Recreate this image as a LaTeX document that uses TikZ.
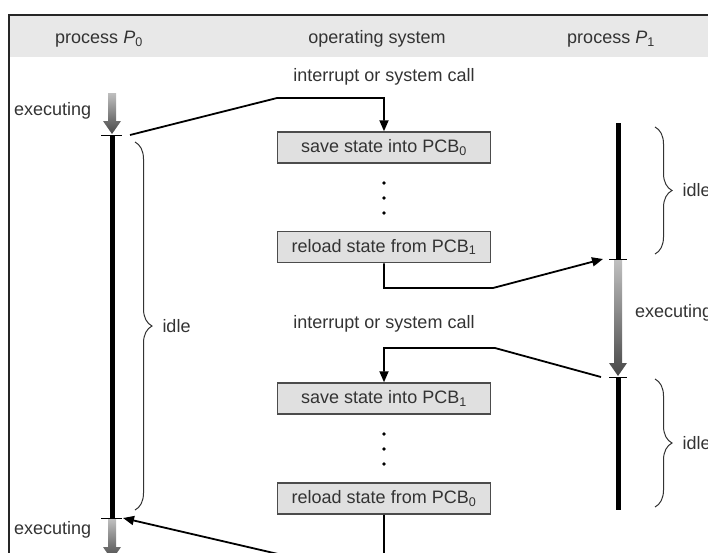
\documentclass[tikz,border=0pt]{standalone}
\usepackage{fontspec}
\setmainfont{Liberation Sans}
\usetikzlibrary{arrows.meta,decorations.pathreplacing,positioning}

\definecolor{headgray}{gray}{0.91}
\definecolor{boxgray}{gray}{0.88}

% grey "executing" arrow: x, top y, tip y
\newcommand\runarrow[3]{%
  \shade[top color=black!25,bottom color=black!72]
    (#1-4,#2) -- (#1+4,#2) -- (#1+4,#3-13) -- (#1+9,#3-13) -- (#1,#3)
    -- (#1-9,#3-13) -- (#1-4,#3-13) -- cycle;}

\begin{document}
\begin{tikzpicture}[x=1pt,y=-1pt,
    font=\fontsize{18}{21}\selectfont,
    txt/.style={text=black!80,inner sep=0pt},
    osbox/.style={draw=black!70,line width=1.5pt,fill=boxgray,text=black!80,
                  minimum width=213pt,minimum height=31pt,inner sep=0pt},
    flow/.style={line width=1.8pt},
    tip/.style={-{Triangle[length=11pt,width=9pt]}},
    runline/.style={line width=5pt},
    tickmark/.style={line width=1pt},
    idlebrace/.style={decorate,decoration={brace,amplitude=17pt},line width=1pt,black!80}]

    \useasboundingbox (0,0) rectangle (708,552);
    \clip (0,0) rectangle (708,552);

    % frame and header
    \fill[headgray] (9,15) rectangle (720,57);
    \draw[line width=1.5pt,black!85] (9,570) -- (9,15) -- (720,15);

    \node[txt] (hP0) at (99,39) {process \textit{P}\textsubscript{0}};
    \node[txt] (hOS) at (377,39) {operating system};
    \node[txt] (hP1) at (611,39) {process \textit{P}\textsubscript{1}};

    % operating system
    \node[txt] (int1) at (384,77) {interrupt or system call};
    \node[osbox] (save0) at (384,147.5) {save state into PCB\textsubscript{0}};
    \node[osbox] (load1) at (384,247) {reload state from PCB\textsubscript{1}};
    \node[txt] (int2) at (384,324) {interrupt or system call};
    \node[osbox] (save1) at (384,398.5) {save state into PCB\textsubscript{1}};
    \node[osbox] (load0) at (384,498.5) {reload state from PCB\textsubscript{0}};

    \foreach \y in {183,198,213,434,449,464}
        \fill (384,\y) circle (1.8pt);

    % process P0
    \coordinate (p0top) at (112,135);
    \coordinate (p0bot) at (112,518);
    \runarrow{112}{93}{134}
    \draw[runline] (p0top) -- (p0bot);
    \draw[tickmark] ([xshift=-11pt]p0top) -- ([xshift=10pt]p0top);
    \draw[tickmark] ([xshift=-11pt]p0bot) -- ([xshift=10pt]p0bot);
    \runarrow{112}{519}{560}
    \node[txt,anchor=west] (exe0a) at (14,111) {executing};
    \node[txt,anchor=west] (exe0b) at (14,530) {executing};
    \draw[idlebrace] (135,142) -- (135,510)
        node[txt,midway,anchor=west,xshift=27pt] (idle0) {idle};

    % process P1
    \coordinate (p1end) at (618,123);
    \coordinate (p1a) at (618,259);
    \coordinate (p1b) at (618,377);
    \coordinate (p1stop) at (618,510);
    \draw[runline] (p1end) -- (p1a);
    \runarrow{618}{260}{376}
    \draw[runline] (p1b) -- (p1stop);
    \draw[tickmark] ([xshift=-9pt]p1a) -- ([xshift=9pt]p1a);
    \draw[tickmark] ([xshift=-9pt]p1b) -- ([xshift=9pt]p1b);
    \node[txt,anchor=west] (exe1) at (635,313) {executing};
    \draw[idlebrace] (655,127) -- (655,254)
        node[txt,midway,anchor=west,xshift=27pt] (idle1a) {idle};
    \draw[idlebrace] (655,379) -- (655,507)
        node[txt,midway,anchor=west,xshift=27pt] (idle1b) {idle};

    % switches
    \draw[flow,tip] ([xshift=18pt]p0top) -- (277,98) -| (save0);
    \draw[flow,tip] (load1) -- ++(0,41) -- (493,288) -- ([xshift=-15pt]p1a);
    \draw[flow,tip] ([xshift=-17pt]p1b) -- (495,348) -| (save1);
    \draw[flow,tip] (load0) -- ++(0,58) -- (291,557) -- ([xshift=11pt]p0bot);
\end{tikzpicture}
\end{document}
